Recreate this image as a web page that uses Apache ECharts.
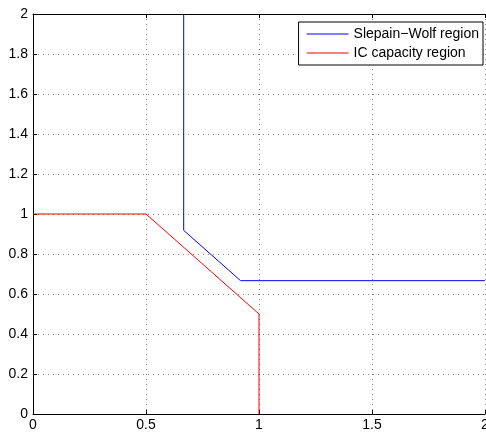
<!DOCTYPE html>
<html><head><meta charset="utf-8">
<script src="https://cdn.jsdelivr.net/npm/echarts@6/dist/echarts.min.js"></script>
<style>html,body{margin:0;padding:0;background:#fff}#c{width:486px;height:432px}</style>
</head><body><div id="c"></div>
<script>
var xTicks = [0, 0.5, 1, 1.5, 2];
var yTicks = [0, 0.2, 0.4, 0.6, 0.8, 1, 1.2, 1.4, 1.6, 1.8, 2];
var swX = [0.6667, 0.6667, 0.9183, 2];
var swY = [2, 0.9183, 0.6667, 0.6667];
var icX = [0, 0.5, 1, 1];
var icY = [1, 1, 0.5, 0];
var seriesNames = ['Slepain\u2212Wolf region', 'IC capacity region'];

function pairs(xs, ys){ return xs.map(function(x,i){return [x, ys[i]];}); }
var font = 'Liberation Sans, Arial, sans-serif';
var chart = echarts.init(document.getElementById('c'));
var gridLine = {show:true, lineStyle:{color:'#888', type:[1,4], width:1}};
chart.setOption({
  animation:false,
  grid:{left:33, right:1, top:14, bottom:18, containLabel:false, outerBoundsMode:'none'},
  legend:{
    orient:'vertical', right:3, top:22,
    backgroundColor:'#fff', borderColor:'#000', borderWidth:1,
    padding:[5,4,5,8], itemGap:5,
    itemWidth:42, itemHeight:1,
    textStyle:{fontFamily:font, fontSize:14, color:'#000'},
    data:[{name:seriesNames[0], icon:'rect'},{name:seriesNames[1], icon:'rect'}]
  },
  xAxis:[{
    type:'value', min:0, max:2, interval:0.5,
    axisLine:{show:true, lineStyle:{color:'#000', width:1}},
    axisTick:{show:true, inside:true, length:4, lineStyle:{color:'#000'}},
    axisLabel:{fontFamily:font, fontSize:14, color:'#000', margin:4,
      formatter:function(v){return xTicks.indexOf(v)>=0 ? String(v) : '';}},
    splitLine:gridLine
  },{
    type:'value', position:'top', min:0, max:2, interval:0.5,
    axisLine:{show:true, onZero:false, lineStyle:{color:'#000', width:1}},
    axisTick:{show:true, inside:true, length:4, lineStyle:{color:'#000'}},
    axisLabel:{show:false}, splitLine:{show:false}
  }],
  yAxis:[{
    type:'value', min:0, max:2, interval:0.2,
    axisLine:{show:true, lineStyle:{color:'#000', width:1}},
    axisTick:{show:true, inside:true, length:4, lineStyle:{color:'#000'}},
    axisLabel:{fontFamily:font, fontSize:14, color:'#000', margin:5,
      formatter:function(v){var r=Math.round(v*10)/10; return String(r);}},
    splitLine:gridLine
  }],
  series:[{
    name:seriesNames[0], type:'line', data:pairs(swX, swY), symbol:'none',
    lineStyle:{color:'#0000ff', width:1}, itemStyle:{color:'#0000ff'}
  },{
    name:seriesNames[1], type:'line', data:pairs(icX, icY), symbol:'none',
    lineStyle:{color:'#ff0000', width:1}, itemStyle:{color:'#ff0000'}
  }]
});
</script></body></html>
